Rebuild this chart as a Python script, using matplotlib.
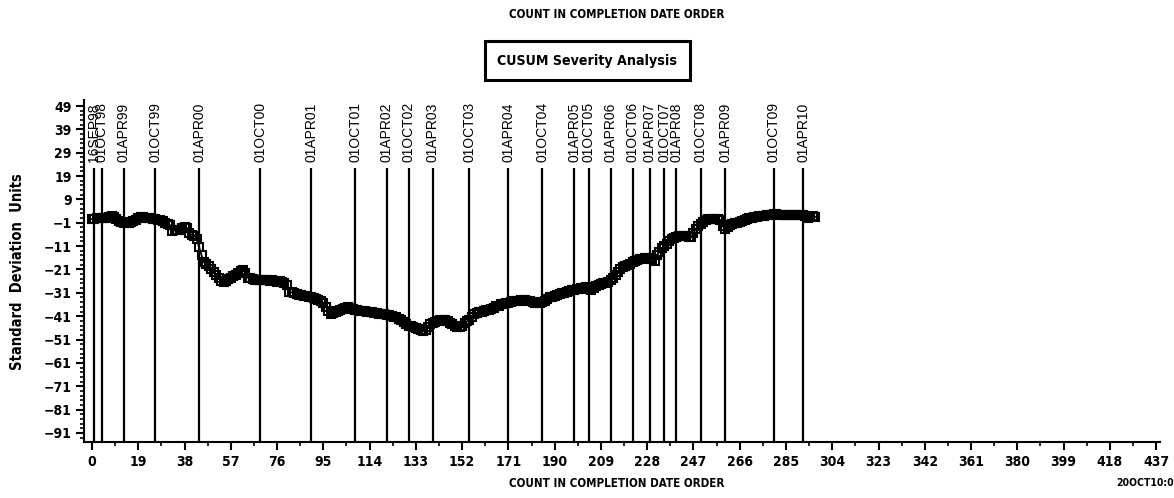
import matplotlib
matplotlib.use("Agg")
import matplotlib.pyplot as plt
from matplotlib.patches import Rectangle
from matplotlib.ticker import FixedLocator

# ---------------- data ----------------
cusum = [
    0.6, 0.8, 0.9, 1.0, 1.1, 1.2, 1.0, 1.5, 1.8, 1.3,
    0.5, -0.3, -0.8, -1.2, -1.0, -0.9, -0.8, -0.2, 0.4, 0.9,
    1.3, 1.5, 1.2, 1.0, 1.0, 0.7, 0.8, 0.4, 0.1, -0.3,
    -0.9, -1.4, -2.0, -4.4, -4.3, -4.0, -4.0, -3.4, -3.0, -3.2,
    -5.5, -6.2, -6.6, -8.0, -11.5, -15.0, -18.0, -18.8, -19.5, -20.8,
    -22.0, -23.2, -24.6, -25.8, -26.3, -26.0, -25.2, -24.5, -23.8, -23.2,
    -22.5, -21.8, -21.3, -22.4, -24.5, -24.8, -25.0, -25.3, -25.6, -25.4,
    -25.5, -25.3, -25.6, -25.8, -25.5, -25.9, -26.2, -26.0, -26.5, -26.8,
    -27.5, -30.5, -30.8, -31.2, -31.5, -31.9, -32.0, -32.3, -32.5, -32.8,
    -33.0, -33.3, -33.6, -34.0, -34.5, -35.2, -37.0, -38.6, -40.0, -39.8,
    -39.3, -38.9, -38.5, -38.0, -37.4, -37.0, -37.3, -37.8, -38.3, -38.5,
    -38.6, -38.7, -38.8, -39.0, -39.2, -39.4, -39.6, -39.7, -39.9, -40.0,
    -40.1, -40.3, -40.5, -40.8, -41.2, -41.5, -42.0, -42.6, -43.5, -44.2,
    -45.0, -45.4, -45.7, -46.0, -46.4, -46.8, -47.2, -46.9, -45.5, -44.4,
    -44.0, -43.5, -43.0, -42.8, -42.7, -42.8, -43.2, -43.8, -44.5, -45.1,
    -45.5, -45.8, -45.2, -44.0, -43.2, -42.5, -41.3, -40.0, -39.6, -39.3,
    -39.0, -38.7, -38.4, -38.2, -38.0, -37.4, -36.8, -36.5, -36.0, -35.8,
    -35.5, -35.2, -35.0, -34.7, -34.5, -34.3, -34.2, -34.0, -34.1, -34.3,
    -34.6, -35.0, -35.3, -35.5, -35.5, -35.0, -34.5, -33.8, -33.0, -32.6,
    -32.2, -31.8, -31.5, -31.2, -30.9, -30.5, -30.2, -30.0, -29.7, -29.5,
    -29.3, -29.0, -28.8, -28.7, -29.2, -29.8, -29.0, -28.0, -27.6, -27.2,
    -27.0, -26.8, -26.5, -25.6, -24.5, -23.2, -22.0, -21.0, -20.0, -19.4,
    -19.0, -18.5, -18.0, -17.5, -17.0, -16.5, -16.3, -16.2, -16.0, -16.2,
    -16.5, -17.5, -15.0, -13.5, -12.0, -11.0, -10.0, -9.0, -8.0, -7.4,
    -7.0, -6.8, -6.7, -6.6, -6.7, -6.9, -7.2, -5.5, -3.5, -2.4,
    -1.5, -0.5, 0.4, 0.6, 0.8, 0.7, 0.6, 0.5, 0.3, -2.5,
    -3.5, -2.8, -2.0, -1.6, -1.3, -1.0, -0.6, -0.3, 0.2, 0.6,
    1.0, 1.2, 1.4, 1.6, 1.8, 2.0, 2.1, 2.2, 2.4, 2.5,
    2.6, 2.6, 2.5, 2.4, 2.3, 2.2, 2.2, 2.3, 2.3, 2.4,
    2.4, 2.4, 2.3, 1.8, 1.2, 1.4, 1.8, 1.6,
]
count = list(range(len(cusum)))

ref_dates = ["16SEP98", "01OCT98", "01APR99", "01OCT99", "01APR00", "01OCT00",
             "01APR01", "01OCT01", "01APR02", "01OCT02", "01APR03", "01OCT03",
             "01APR04", "01OCT04", "01APR05", "01OCT05", "01APR06", "01OCT06",
             "01APR07", "01OCT07", "01APR08", "01OCT08", "01APR09", "01OCT09",
             "01APR10"]
ref_counts = [1, 4, 13, 26, 44, 69, 90, 108, 121, 130, 140, 155,
              171, 185, 198, 204, 213, 222, 229, 235, 240, 250, 260, 280, 292]

x_ticks = list(range(0, 438, 19))
y_ticks = list(range(-91, 50, 10))

NARROW_FP = dict(family=["DejaVu Sans"], stretch="condensed", weight="bold")
REG = ["Liberation Sans", "DejaVu Sans"]

W, H = 1174, 498
fig = plt.figure(figsize=(W / 100, H / 100), dpi=100)
ax = fig.add_axes([84 / W, 1 - 442 / H, (1160 - 84) / W, (442 - 100) / H])

ax.set_xlim(-3.3, 438.6)
ax.set_ylim(-94.9, 51.6)

# reference lines
ax.vlines(ref_counts, -94.9, 22.5, colors="black", linewidth=1.6, zorder=1)
for xc, lab in zip(ref_counts, ref_dates):
    ax.text(xc, 25, lab, rotation=90, ha="center", va="bottom",
            fontsize=10, family=REG, color="black")

# CUSUM series
ax.plot(count, cusum, color="black", linewidth=1.3, marker="s", markersize=6,
        markerfacecolor="none", markeredgecolor="black", markeredgewidth=1.5,
        zorder=3)

# axes styling
for side in ["top", "right"]:
    ax.spines[side].set_visible(False)
ax.spines["left"].set_linewidth(1.5)
ax.spines["bottom"].set_linewidth(1.5)

ax.xaxis.set_major_locator(FixedLocator(x_ticks))
ax.xaxis.set_minor_locator(FixedLocator([t + 9.5 for t in x_ticks[:-1]]))
ax.yaxis.set_major_locator(FixedLocator(y_ticks))
ax.yaxis.set_minor_locator(FixedLocator([v for v in range(-93, 50, 2) if (v + 91) % 10 != 0]))
ax.tick_params(axis="both", which="major", direction="out", length=6, width=1.5,
               labelsize=10, pad=3)
ax.tick_params(axis="both", which="minor", direction="out", length=3, width=1.2)
ax.tick_params(axis="x", pad=3)
ax.set_xticklabels([str(t) for t in x_ticks], **NARROW_FP)
ax.set_yticklabels([("\u2212" + str(-t)) if t < 0 else str(t) for t in y_ticks],
                   **NARROW_FP)

# texts
fig.text(617 / W, 1 - 14 / H, "COUNT IN COMPLETION DATE ORDER", ha="center", va="center",
         fontsize=8.3, **NARROW_FP)
fig.text(617 / W, 1 - 483 / H, "COUNT IN COMPLETION DATE ORDER", ha="center", va="center",
         fontsize=8.3, **NARROW_FP)
fig.text(1116 / W, 1 - 483 / H, "20OCT10:09:51", ha="left", va="center",
         fontsize=7.5, **NARROW_FP)
fig.text(18 / W, 1 - 272 / H, "Standard  Deviation  Units", rotation=90, ha="center",
         va="center", fontsize=10.5, **NARROW_FP)

box = Rectangle((485 / W, 1 - 80 / H), (690 - 485) / W, (80 - 41) / H,
                transform=fig.transFigure, fill=False, edgecolor="black", linewidth=2.2)
fig.add_artist(box)
fig.text(587 / W, 1 - 61 / H, "CUSUM Severity Analysis", ha="center", va="center",
         fontsize=10.2, **NARROW_FP)

fig.savefig("out.png", dpi=100)
